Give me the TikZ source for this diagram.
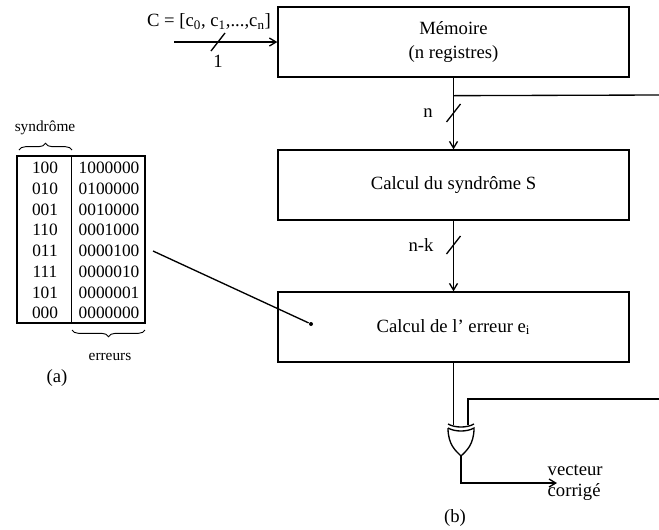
\documentclass[tikz,border=0pt]{standalone}
\usepackage{fontspec}
\setmainfont{Liberation Serif}
\usetikzlibrary{
	arrows,
	arrows.meta,
	calc,
	positioning,
	decorations.pathreplacing,
}
\tikzset{block/.style={
	draw,
	rectangle,
	minimum width=263.25pt,
	minimum height=52.5pt,
	inner sep=0mm,
	align=center,
	font=\fontsize{14}{17.5}\selectfont,
}}
\tikzset{txt/.style={
	draw=none,
	inner sep=0mm,
	font=\fontsize{14}{16}\selectfont,
}}
\tikzset{bits/.style={
	draw=none,
	inner sep=0mm,
	font=\fontsize{13}{15}\selectfont,
}}
\tikzset{small/.style={
	draw=none,
	inner sep=0mm,
	font=\fontsize{11.5}{13}\selectfont,
}}
\tikzset{dot/.style={
	circle,
	fill,
	inner sep=0mm,
	minimum size=3pt,
}}

% slash across a bus
\newcommand{\busmark}[1]{
\draw ($(#1)+(-7,9)$) -- ($(#1)+(7,-9)$);
}

\begin{document}
\begin{tikzpicture}[x=0.75pt, y=-0.75pt, line width=1pt,
	>={Straight Barb[length=5pt, width=6pt]}]
\useasboundingbox (0,0) rectangle (659,529);

\node[block](mem) 		at (453.5,42) {Mémoire\\(n registres)};
\node[block](synd) 		at (453.5,185) {Calcul du syndrôme S};
\node[block](err) 		at (453.5,327) {Calcul de l' erreur e\textsubscript{i}};

% input -> memory
\coordinate(cin) 		at (174,42);
\node[txt](ctxt) 		at (209,22) {C = [c\textsubscript{0}, c\textsubscript{1},...,c\textsubscript{n}]};
\draw[->] (cin) -- (mem.west);
\coordinate(b1) 		at (218,42);
\busmark{b1}
\node[txt](one) 		at (218,61) {1};

% memory -> syndrome
\draw[->] (mem) -- (synd);
\coordinate(tap) 		at ($(mem.south)+(0,18)$);
\coordinate(tapend) 	at (659,95);
\draw (tap) -- (tapend);
\coordinate(bn) 		at (453.5,113);
\busmark{bn}
\node[txt](n) 			at (428,113) {n};

% syndrome -> erreur
\draw[->] (synd) -- (err);
\coordinate(bnk) 		at (453.5,245);
\busmark{bnk}
\node[txt](nk) 			at (421,245) {n-k};

% table
\node[draw, minimum width=96pt, minimum height=125.25pt, inner sep=0mm](tab) at (81,239.5) {};
\draw ($(tab.north west)+(55,0)$) -- ($(tab.south west)+(55,0)$);
\foreach \s/\e [count=\i from 0] in {100/1000000, 010/0100000, 001/0010000, 110/0001000,
	011/0000100, 111/0000010, 101/0000001, 000/0000000}{
\node[bits] at (45,{168+20.75*\i}) {\s};
\node[bits] at (109,{168+20.75*\i}) {\e};
}
\draw[decorate, decoration={brace, amplitude=5pt}, line width=0.7pt] (19,150) -- (72,150);
\draw[decorate, decoration={brace, amplitude=5pt}, line width=0.7pt] (145,330) -- (72,330);
\node[small](syn) 		at (45,128) {syndrôme};
\node[small](errs) 		at (110,357) {erreurs};
\node[txt](a) 			at (57,378) {(a)};

% table -> erreur
\coordinate(row) 		at (153,251);
\node[dot](pick) 		at (311,324) {};
\draw (row) -- (pick);

% xor gate
\coordinate(fb) 		at (659,399);
\coordinate(in1) 		at (453.5,425);
\coordinate(in2) 		at (468,425);
\coordinate(out) 		at (461,456);
\draw (err.south) -- (in1);
\draw (fb) -| (in2);
\draw (448,424) .. controls (455,428) and (467,428) .. (474,424);
\draw (448,428) .. controls (455,432) and (467,432) .. (474,428)
	.. controls (474,445) and (466,451) .. (out)
	.. controls (456,451) and (448,445) .. (448,428);

% output
\coordinate(vend) 		at (557,483);
\draw[->] (out) |- (vend);
\node[txt, anchor=west, align=left](vc) at (547,483) {vecteur\\corrigé};
\node[txt](b) 			at (455,518) {(b)};

\end{tikzpicture}
\end{document}
